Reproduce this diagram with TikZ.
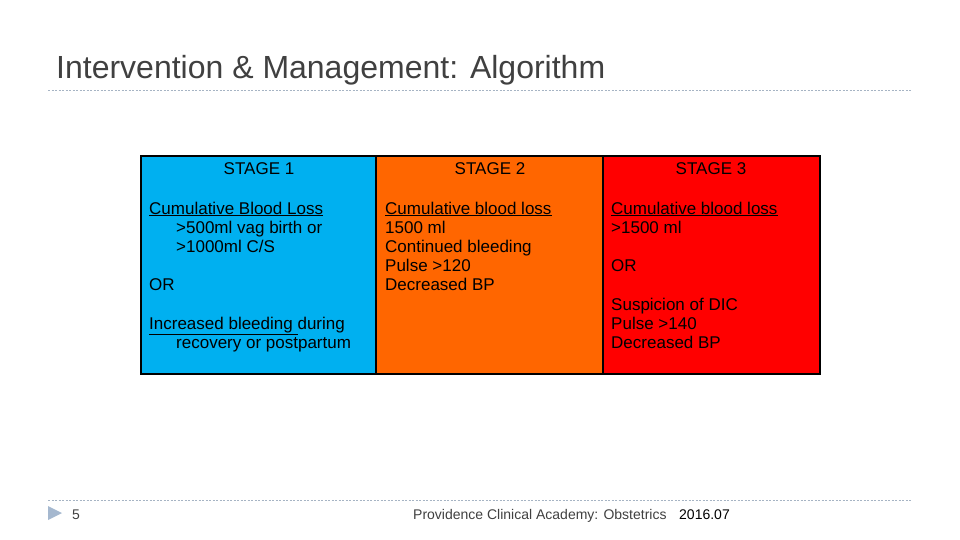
\documentclass[tikz,border=0pt]{standalone}
\usepackage{fontspec}
\setmainfont{Liberation Sans}
\newcommand\myul[1]{\underline{#1}}
\begin{document}
\begin{tikzpicture}[x=1pt,y=-1pt,
  tx/.style={anchor=base west,inner sep=0pt,font=\fontsize{17}{19}\selectfont},
  hd/.style={anchor=base,inner sep=0pt,font=\fontsize{17}{19}\selectfont},
  rule/.style={draw=lineg,dashed,dash pattern=on 2pt off 1.5pt,line width=0.7pt}]
\useasboundingbox (0,0) rectangle (960,540);
\definecolor{sblue}{HTML}{00B0F0}
\definecolor{sorange}{HTML}{FF6600}
\definecolor{sred}{HTML}{FF0000}
\definecolor{tgray}{HTML}{404040}
\definecolor{lineg}{HTML}{A6B4C4}
\definecolor{trig}{HTML}{A5B8CF}
\node[anchor=base west,inner sep=0pt,text=tgray,font=\fontsize{32}{36}\selectfont] (title) at (56,79) {Intervention \& Management: Algorithm};
\coordinate (l1a) at (48,90); \coordinate (l1b) at (912,90);
\draw[rule] (l1a) -- (l1b);
\coordinate (l2a) at (48,500); \coordinate (l2b) at (912,500);
\draw[rule] (l2a) -- (l2b);
% cells
\fill[sblue] (142,157) rectangle (376,373);
\fill[sorange] (376,157) rectangle (603,373);
\fill[sred] (603,157) rectangle (820,373);
\draw[line width=2.5pt] (141,156) rectangle (820,374);
\draw[line width=2.5pt] (376,156) -- (376,374);
\draw[line width=2.5pt] (603,156) -- (603,374);
% headers
\node[hd] (h1) at (259,175) {STAGE 1};
\node[hd] (h2) at (490,175) {STAGE 2};
\node[hd] (h3) at (711,175) {STAGE 3};
% stage 1
\node[tx] (a1) at (149,214) {\myul{Cumulative Blood Loss}};
\node[tx] (a2) at (176,233) {>500ml vag birth or};
\node[tx] (a3) at (176,252) {>1000ml C/S};
\node[tx] (a4) at (149,290) {OR};
\node[tx] (a5) at (149,329) {\myul{Increased bleeding }during};
\node[tx] (a6) at (176,348) {recovery or postpartum};
% stage 2
\node[tx] (b1) at (385,214) {\myul{Cumulative blood loss}};
\node[tx] (b2) at (385,233) {1500 ml};
\node[tx] (b3) at (385,252) {Continued bleeding};
\node[tx] (b4) at (385,271) {Pulse >120};
\node[tx] (b5) at (385,290) {Decreased BP};
% stage 3
\node[tx] (c1) at (611,214) {\myul{Cumulative blood loss}};
\node[tx] (c2) at (611,233) {>1500 ml};
\node[tx] (c3) at (611,271) {OR};
\node[tx] (c4) at (611,310) {Suspicion of DIC};
\node[tx] (c5) at (611,329) {Pulse >140};
\node[tx] (c6) at (611,348) {Decreased BP};
% footer
\fill[trig] (48,506) -- (62,513) -- (48,520) -- cycle;
\node[anchor=base west,inner sep=0pt,text=tgray,font=\fontsize{14}{16}\selectfont] (pg) at (72,519) {5};
\node[anchor=base west,inner sep=0pt,text=tgray,font=\fontsize{14}{16}\selectfont] (ft) at (413,519) {Providence Clinical Academy: Obstetrics};
\node[anchor=base west,inner sep=0pt,text=black,font=\fontsize{14}{16}\selectfont] (dt) at (679,519) {2016.07};
\end{tikzpicture}
\end{document}
